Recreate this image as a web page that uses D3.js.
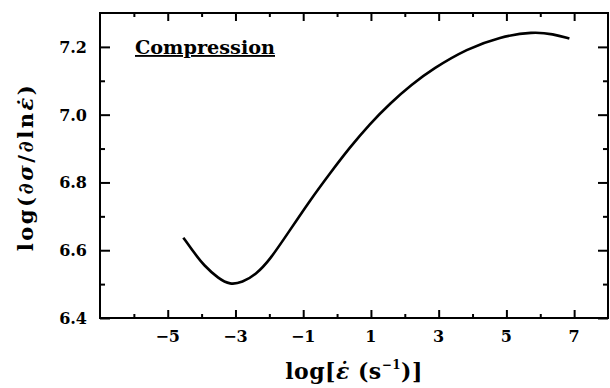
<!DOCTYPE html>
<html><head><meta charset="utf-8">
<script src="https://cdn.jsdelivr.net/npm/d3@7"></script>
<style>body{margin:0;background:#fff}svg{display:block}</style>
</head><body>
<svg id="c" width="610" height="388"></svg>
<script>
const curveX = [-4.54,-4.2,-3.95,-3.5,-3.16,-2.8,-2.4,-1.98,-1.4,-0.8,-0.21,0.38,0.97,1.56,2.2,2.84,3.83,4.81,5.79,6.38,6.86];
const curveY = [6.637,6.590,6.557,6.516,6.498,6.505,6.528,6.572,6.658,6.747,6.827,6.904,6.973,7.033,7.089,7.136,7.194,7.230,7.245,7.238,7.225];
const xMajorTicks = [-5,-3,-1,1,3,5,7];
const xMinorTicks = [-6,-4,-2,0,2,4,6];
const yMajorTicks = [6.4,6.6,6.8,7.0,7.2];
const yMinorTicks = [6.5,6.7,6.9,7.1];
const xDomain = [-7, 8];
const yDomain = [6.4, 7.3];
const label = "Compression";

const svg = d3.select("#c");
const L=100, R=608, T=13, B=318;
const x = d3.scaleLinear().domain(xDomain).range([L,R]);
const y = d3.scaleLinear().domain(yDomain).range([B,T]);
const serif = "'DejaVu Serif', 'Liberation Serif', serif";
const lw = 2;

function tickAxis(axis, vals, len){
  return axis.tickValues(vals).tickSize(len).tickFormat("");
}
function style(g){
  g.select(".domain").remove();
  g.selectAll("line").attr("stroke","#000").attr("stroke-width",lw);
}
svg.append("g").attr("transform",`translate(0,${B})`).call(tickAxis(d3.axisTop(x),xMajorTicks,8)).call(style);
svg.append("g").attr("transform",`translate(0,${B})`).call(tickAxis(d3.axisTop(x),xMinorTicks,4)).call(style);
svg.append("g").attr("transform",`translate(0,${T})`).call(tickAxis(d3.axisBottom(x),xMajorTicks,8)).call(style);
svg.append("g").attr("transform",`translate(0,${T})`).call(tickAxis(d3.axisBottom(x),xMinorTicks,4)).call(style);
svg.append("g").attr("transform",`translate(${L},0)`).call(tickAxis(d3.axisRight(y),yMajorTicks,10)).call(style);
svg.append("g").attr("transform",`translate(${L},0)`).call(tickAxis(d3.axisRight(y),yMinorTicks,5)).call(style);
svg.append("g").attr("transform",`translate(${R},0)`).call(tickAxis(d3.axisLeft(y),yMajorTicks,10)).call(style);
svg.append("g").attr("transform",`translate(${R},0)`).call(tickAxis(d3.axisLeft(y),yMinorTicks,5)).call(style);

svg.append("rect").attr("x",L).attr("y",T).attr("width",R-L).attr("height",B-T)
  .attr("fill","none").attr("stroke","#000").attr("stroke-width",lw);

svg.append("g").selectAll("text").data(xMajorTicks).join("text")
  .attr("x",d=>x(d)).attr("y",B+24).attr("text-anchor","middle")
  .attr("font-family",serif).attr("font-weight","bold").attr("font-size",16)
  .text(d=>d<0?"\u2212"+Math.abs(d):d);
svg.append("g").selectAll("text").data(yMajorTicks).join("text")
  .attr("x",L-13).attr("y",d=>y(d)+6).attr("text-anchor","end")
  .attr("font-family",serif).attr("font-weight","bold").attr("font-size",16)
  .text(d=>d.toFixed(1));

const pts = curveX.map((v,i)=>[v,curveY[i]]);
svg.append("path").datum(pts)
  .attr("d",d3.line().x(d=>x(d[0])).y(d=>y(d[1])).curve(d3.curveBasis))
  .attr("fill","none").attr("stroke","#000").attr("stroke-width",2.6);

svg.append("text").attr("x",135).attr("y",54)
  .attr("font-family",serif).attr("font-weight","bold").attr("font-size",18.5)
  .attr("textLength",140).attr("lengthAdjust","spacingAndGlyphs")
  .attr("text-decoration","underline").text(label);

function fit(sel, target){
  const w = sel.node().getComputedTextLength();
  const n = sel.text().length;
  sel.attr("letter-spacing", ((target - w)/n).toFixed(2));
}
const xt = svg.append("text").attr("x",354).attr("y",379).attr("text-anchor","middle")
  .attr("font-family",serif).attr("font-size",22).attr("font-weight","bold")
  .html('log[<tspan font-style="italic">ε̇</tspan> (s<tspan dy="-10" font-size="12">−1</tspan><tspan dy="10">)]</tspan>');
fit(xt, 138);
const yt = svg.append("text").attr("transform",`translate(33,167) rotate(-90)`).attr("text-anchor","middle")
  .attr("font-family",serif).attr("font-size",21).attr("font-weight","bold")
  .html('log(∂<tspan font-style="italic">σ</tspan>/∂ln<tspan font-style="italic">ε̇</tspan>)');
fit(yt, 171);
</script>
</body></html>
